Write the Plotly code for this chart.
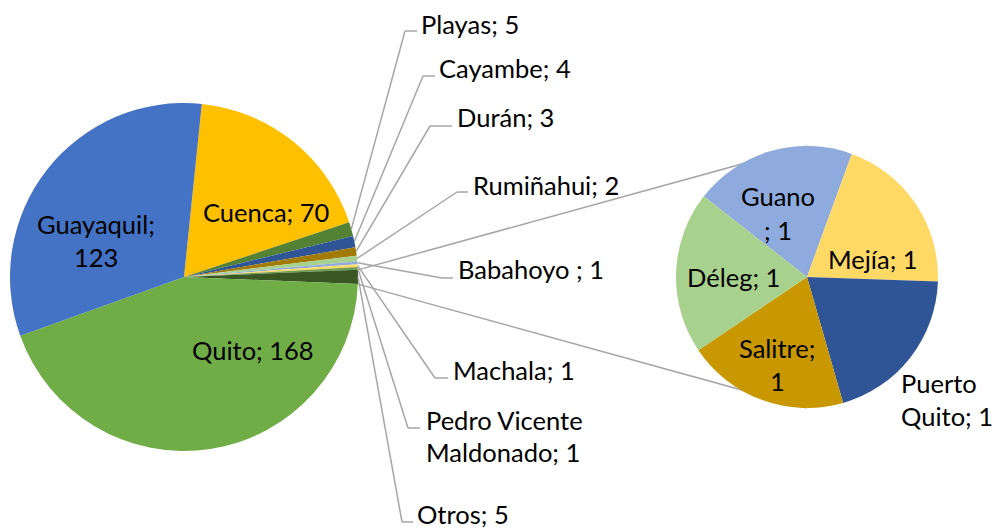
import numpy as np
import plotly.graph_objects as go

# ---------------- data ----------------
main_labels = ["Cuenca", "Playas", "Cayambe", "Durán", "Rumiñahui", "Babahoyo ",
               "Machala", "Pedro Vicente Maldonado", "Otros", "Quito", "Guayaquil"]
main_values = [70, 5, 4, 3, 2, 1, 1, 1, 5, 168, 123]
main_colors = ["#FFC000", "#548235", "#2F5597", "#A27A00", "#A9D18E", "#8FAADC",
               "#FFD966", "#6F9E4F", "#385723", "#70AD47", "#4472C4"]

sub_labels = ["Guano", "Mejía", "Puerto Quito", "Salitre", "Déleg"]
sub_values = [1, 1, 1, 1, 1]
sub_colors = ["#8FAADC", "#FFD966", "#2F5597", "#C99700", "#A9D18E"]

W, H = 1003, 531
OFF = 8          # page body margin of the generated html
FONT = "Lato"
FS = 25.5
GRAY = "#A6A6A6"

# pie geometry (page pixels)
MC = (184, 277); MR = 174
SC = (807, 277); SR = 131
MAIN_ROT = 5.87
SUB_ROT = -52


def px(x):
    return (x - OFF) / W


def py(y):
    return 1 - (y - OFF) / H


fig = go.Figure()
fig.add_trace(go.Pie(
    labels=main_labels, values=main_values, sort=False, direction="clockwise",
    rotation=MAIN_ROT, marker=dict(colors=main_colors, line=dict(width=0)),
    textinfo="none", hoverinfo="label+value", showlegend=False,
    domain=dict(x=[px(MC[0] - MR), px(MC[0] + MR)], y=[py(MC[1] + MR), py(MC[1] - MR)]),
))
fig.add_trace(go.Pie(
    labels=sub_labels, values=sub_values, sort=False, direction="clockwise",
    rotation=SUB_ROT, marker=dict(colors=sub_colors, line=dict(width=0)),
    textinfo="none", hoverinfo="label+value", showlegend=False,
    domain=dict(x=[px(SC[0] - SR), px(SC[0] + SR)], y=[py(SC[1] + SR), py(SC[1] - SR)]),
))

# angles of slices (clockwise from 12 o'clock) computed from the data
vals = np.array(main_values, dtype=float)
deg = vals / vals.sum() * 360
starts = MAIN_ROT + np.concatenate([[0], np.cumsum(deg)[:-1]])
mids = starts + deg / 2


def rim(angle_deg, r=MR, c=MC):
    a = np.radians(angle_deg)
    return c[0] + r * np.sin(a), c[1] - r * np.cos(a)


shapes = []
# series lines from "Otros" slice to the secondary pie
oi = main_labels.index("Otros")
p_top = rim(starts[oi])
p_bot = rim(starts[oi] + deg[oi])
for p, q in [(p_top, (SC[0], SC[1] - SR)), (p_bot, (SC[0], SC[1] + SR))]:
    shapes.append(dict(type="line", xref="paper", yref="paper", layer="below",
                       x0=px(p[0]), y0=py(p[1]), x1=px(q[0]), y1=py(q[1]),
                       line=dict(color=GRAY, width=1.5)))

# leader-line labels: (elbow x, elbow y, end x, text x, text y's) in page pixels
outside = {
    "Playas": (405, 31, 417, 419, [24]),
    "Cayambe": (423, 76, 435, 437, [68]),
    "Durán": (430, 126, 452, 455, [117]),
    "Rumiñahui": (457, 192, 468, 471, [185]),
    "Babahoyo ": (442, 278, 453, 456, [269]),
    "Machala": (435, 378, 448, 451, [370]),
    "Pedro Vicente Maldonado": (408, 428, 420, 424, [420, 452]),
    "Otros": (402, 522, 413, 415, [514]),
}
annotations = []
for name, (ex, ey, hx, tx, tys) in outside.items():
    i = main_labels.index(name)
    s = rim(mids[i])
    shapes.append(dict(type="line", xref="paper", yref="paper",
                       x0=px(s[0]), y0=py(s[1]), x1=px(ex), y1=py(ey),
                       line=dict(color=GRAY, width=1.5)))
    shapes.append(dict(type="line", xref="paper", yref="paper",
                       x0=px(ex), y0=py(ey), x1=px(hx), y1=py(ey),
                       line=dict(color=GRAY, width=1.5)))
    if name == "Pedro Vicente Maldonado":
        lines = ["Pedro Vicente", f"Maldonado; {main_values[i]}"]
    else:
        lines = [f"{name}; {main_values[i]}"]
    for t, ty in zip(lines, tys):
        annotations.append(dict(text=t, x=px(tx), y=py(ty), xref="paper", yref="paper",
                                xanchor="left", yanchor="middle", showarrow=False,
                                font=dict(family=FONT, size=FS, color="black")))


def center_label(lines, cx, ys, anchor="center"):
    for t, y in zip(lines, ys):
        annotations.append(dict(text=t, x=px(cx), y=py(y), xref="paper", yref="paper",
                                xanchor=anchor, yanchor="middle", showarrow=False,
                                font=dict(family=FONT, size=FS, color="black")))


mv = dict(zip(main_labels, main_values))
sv = dict(zip(sub_labels, sub_values))
center_label(["Guayaquil;", f"{mv['Guayaquil']}"], 96, [224, 257])
center_label([f"Cuenca; {mv['Cuenca']}"], 266, [212])
center_label([f"Quito; {mv['Quito']}"], 253, [350])
center_label(["Guano", f"; {sv['Guano']}"], 778, [196, 230])
center_label([f"Mejía; {sv['Mejía']}"], 873, [259])
center_label([f"Déleg; {sv['Déleg']}"], 733, [277])
center_label(["Salitre;", f"{sv['Salitre']}"], 777, [348, 381])
center_label(["Puerto", f"Quito; {sv['Puerto Quito']}"], 899, [383, 416], anchor="left")

fig.update_layout(
    width=W, height=H, margin=dict(l=0, r=0, t=0, b=0),
    paper_bgcolor="white", plot_bgcolor="white",
    shapes=shapes, annotations=annotations, showlegend=False,
)
fig.write_html("out.html")
